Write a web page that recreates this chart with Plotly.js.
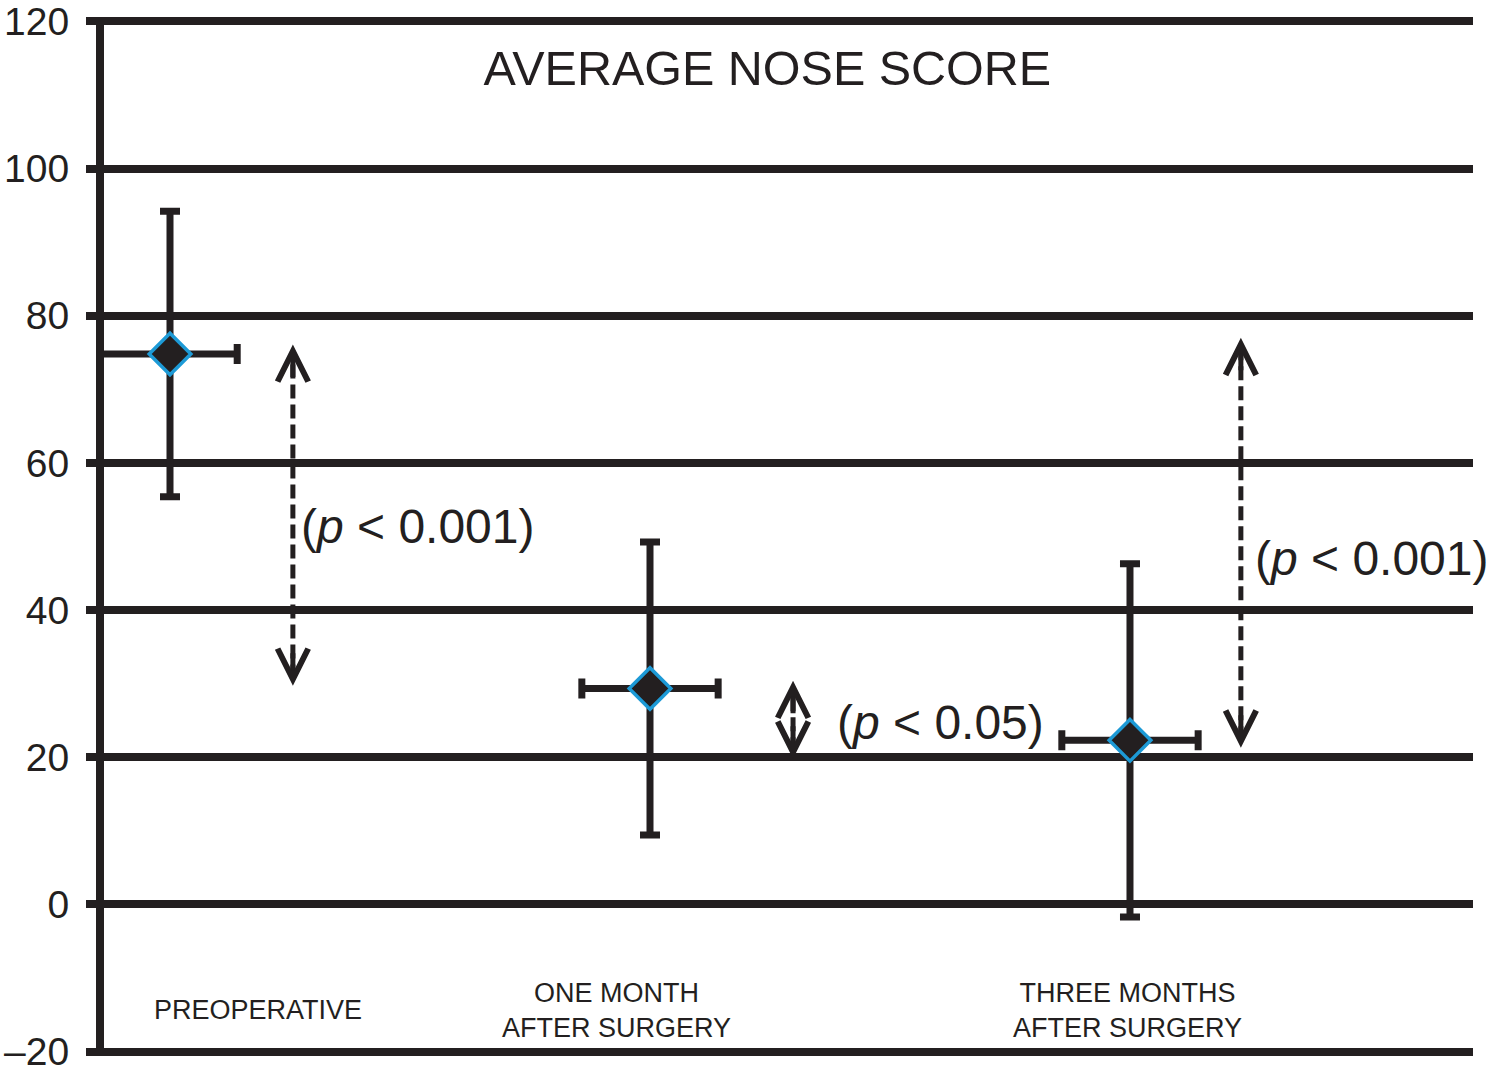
<!DOCTYPE html>
<html>
<head>
<meta charset="utf-8">
<script src="https://cdn.plot.ly/plotly-3.0.1.min.js"></script>
<style>
  html, body {margin: 0; padding: 0; background: #fff;}
  #chart {width: 1490px; height: 1076px;}
</style>
</head>
<body>
<div id="chart"></div>
<script>
  const INK = "#231f20"
  const FONT = "Liberation Sans, Arial, Helvetica, sans-serif"

  // groups along the time axis
  const groups = ["PREOPERATIVE", "ONE MONTH<br>AFTER SURGERY", "THREE MONTHS<br>AFTER SURGERY"]
  const groupX = [1, 2, 3]
  const groupLabelX = [1.183, 1.931, 2.994]

  // average NOSE score and its spread
  const meanScore = [74.8, 29.35, 22.3]
  const scoreError = [19.4, 19.9, 24.0]
  const timeErrorPlus = [0.14, 0.142, 0.142]
  const timeErrorMinus = [0.15, 0.142, 0.142]

  // significance comparisons (dashed double arrows)
  const compareX = [1.256, 2.298, 3.231]
  const compareTop = [76.1, 30.4, 77.0]
  const compareBottom = [29.7, 19.8, 21.3]
  const compareText = ["(<i>p</i> &lt; 0.001)", "(<i>p</i> &lt; 0.05)", "(<i>p</i> &lt; 0.001)"]
  const compareLabelX = [1.269, 2.386, 3.256]
  const compareLabelY = [51.4, 24.7, 47.0]

  const yTicks = [-20, 0, 20, 40, 60, 80, 100, 120]
  const yTickText = ["–20", "0", "20", "40", "60", "80", "100", "120"]

  const data = [{
    x: groupX,
    y: meanScore,
    type: "scatter",
    mode: "markers",
    showlegend: false,
    hoverinfo: "y",
    marker: {symbol: "diamond", size: 32, color: INK, line: {color: "#1d9ad6", width: 3.5}},
    error_y: {type: "data", array: scoreError, visible: true, color: INK, thickness: 7, width: 10},
    error_x: {type: "data", symmetric: false, array: timeErrorPlus, arrayminus: timeErrorMinus, visible: true, color: INK, thickness: 7, width: 10}
  }]

  // dashed shafts
  const shapes = compareX.map((x, i) => ({
    type: "line", xref: "x", yref: "y", layer: "above",
    x0: x, x1: x, y0: compareBottom[i] + 1, y1: compareTop[i] - 1,
    line: {color: INK, width: 5, dash: "14px,6px"}
  }))

  const annotations = []
  // open chevron heads on both ends
  compareX.forEach((x, i) => {
    const head = {x, xref: "x", yref: "y", text: "", showarrow: true, arrowhead: 5,
      arrowsize: 1.2, arrowwidth: 5, arrowcolor: INK, ax: 0, axref: "pixel", ayref: "pixel", standoff: 0}
    annotations.push({...head, y: compareTop[i], ay: 34})
    annotations.push({...head, y: compareBottom[i], ay: -34})
  })
  // p-value labels
  compareText.forEach((t, i) => annotations.push({
    x: compareLabelX[i], y: compareLabelY[i], xref: "x", yref: "y", text: t, showarrow: false,
    xanchor: "left", yanchor: "middle", font: {family: FONT, size: 48, color: INK}
  }))
  // group labels inside the plot
  groups.forEach((g, i) => annotations.push({
    x: groupLabelX[i], y: -14.4, xref: "x", yref: "y", text: g, showarrow: false,
    xanchor: "center", yanchor: "middle", align: "center", font: {family: FONT, size: 27, color: INK}
  }))

  const layout = {
    width: 1490,
    height: 1076,
    paper_bgcolor: "#fff",
    plot_bgcolor: "#fff",
    margin: {l: 104, r: 17, t: 16.8, b: 19.6, pad: 0},
    font: {family: FONT, color: INK},
    title: {text: "AVERAGE NOSE SCORE", x: 0.515, xanchor: "center", xref: "container",
      y: 1 - 68 / 1076, yanchor: "middle", yref: "container", font: {family: FONT, size: 48.5, color: INK}},
    xaxis: {range: [0.8625, 3.7146], showgrid: false, zeroline: false, showline: false, showticklabels: false, ticks: "", fixedrange: true},
    yaxis: {
      range: [-20.6, 120.6], tickmode: "array", tickvals: yTicks, ticktext: yTickText,
      showgrid: true, gridcolor: INK, gridwidth: 8, zeroline: false,
      showline: true, linecolor: INK, linewidth: 8,
      ticks: "outside", ticklen: 10, tickwidth: 8, tickcolor: INK, ticklabelstandoff: 9,
      ticklabeloverflow: "allow",
      tickfont: {family: FONT, size: 39, color: INK}, fixedrange: true
    },
    shapes,
    annotations
  }

  Plotly.newPlot("chart", data, layout, {displayModeBar: false, staticPlot: true})
</script>
</body>
</html>
